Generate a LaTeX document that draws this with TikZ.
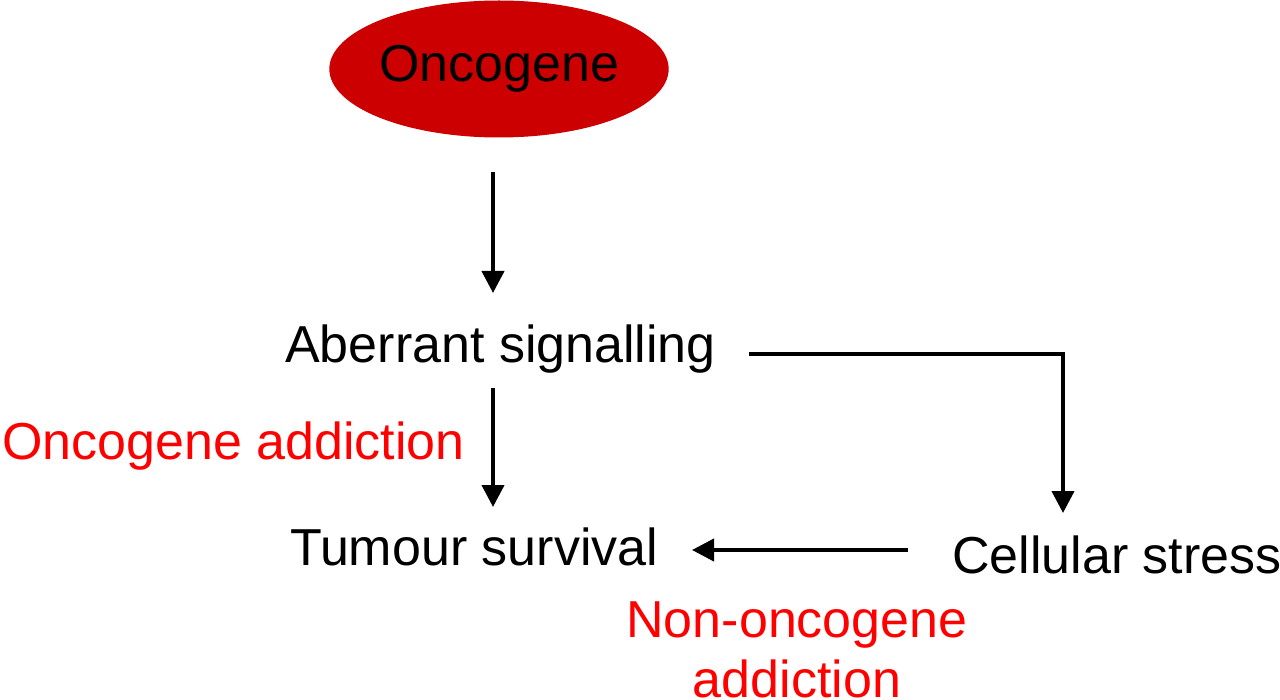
\documentclass[tikz,border=0pt]{standalone}
\usepackage{fontspec}
\setmainfont{Liberation Sans}
\usetikzlibrary{arrows.meta,shapes.geometric}
\definecolor{ellred}{RGB}{204,0,0}
\definecolor{txtred}{RGB}{255,0,0}
\begin{document}
\begin{tikzpicture}[x=1pt,y=-1pt,
  lbl/.style={font=\fontsize{52}{60}\selectfont, inner sep=0pt, anchor=base west},
  arr/.style={line width=4pt, -{Triangle[width=22pt,length=22pt]}}]
\useasboundingbox (0,0) rectangle (1280,700);
\node[ellipse, fill=ellred, minimum width=338pt, minimum height=137pt, inner sep=0pt,
      font=\fontsize{52}{60}\selectfont] (onc) at (499,69) {Oncogene};
\node[lbl] (ab) at (285,363) {Aberrant signalling};
\node[lbl, text=txtred] (oa) at (2,460) {Oncogene addiction};
\node[lbl] (ts) at (290,565) {Tumour survival};
\node[lbl] (cs) at (952,573) {Cellular stress};
\node[font=\fontsize{52}{60}\selectfont, inner sep=0pt, anchor=north, align=center, text=txtred] (noa) at (797,602) {Non-oncogene\\addiction};
\coordinate (a1s) at (493,172); \coordinate (a1e) at (493,293);
\coordinate (a2s) at (493,388); \coordinate (a2e) at (493,507);
\coordinate (a3s) at (749,354); \coordinate (a3e) at (1063,513);
\coordinate (a4s) at (908,550); \coordinate (a4e) at (692,550);
\draw[arr] (a1s) -- (a1e);
\draw[arr] (a2s) -- (a2e);
\draw[arr] (a3s) -| (a3e);
\draw[arr] (a4s) -- (a4e);
\end{tikzpicture}
\end{document}
